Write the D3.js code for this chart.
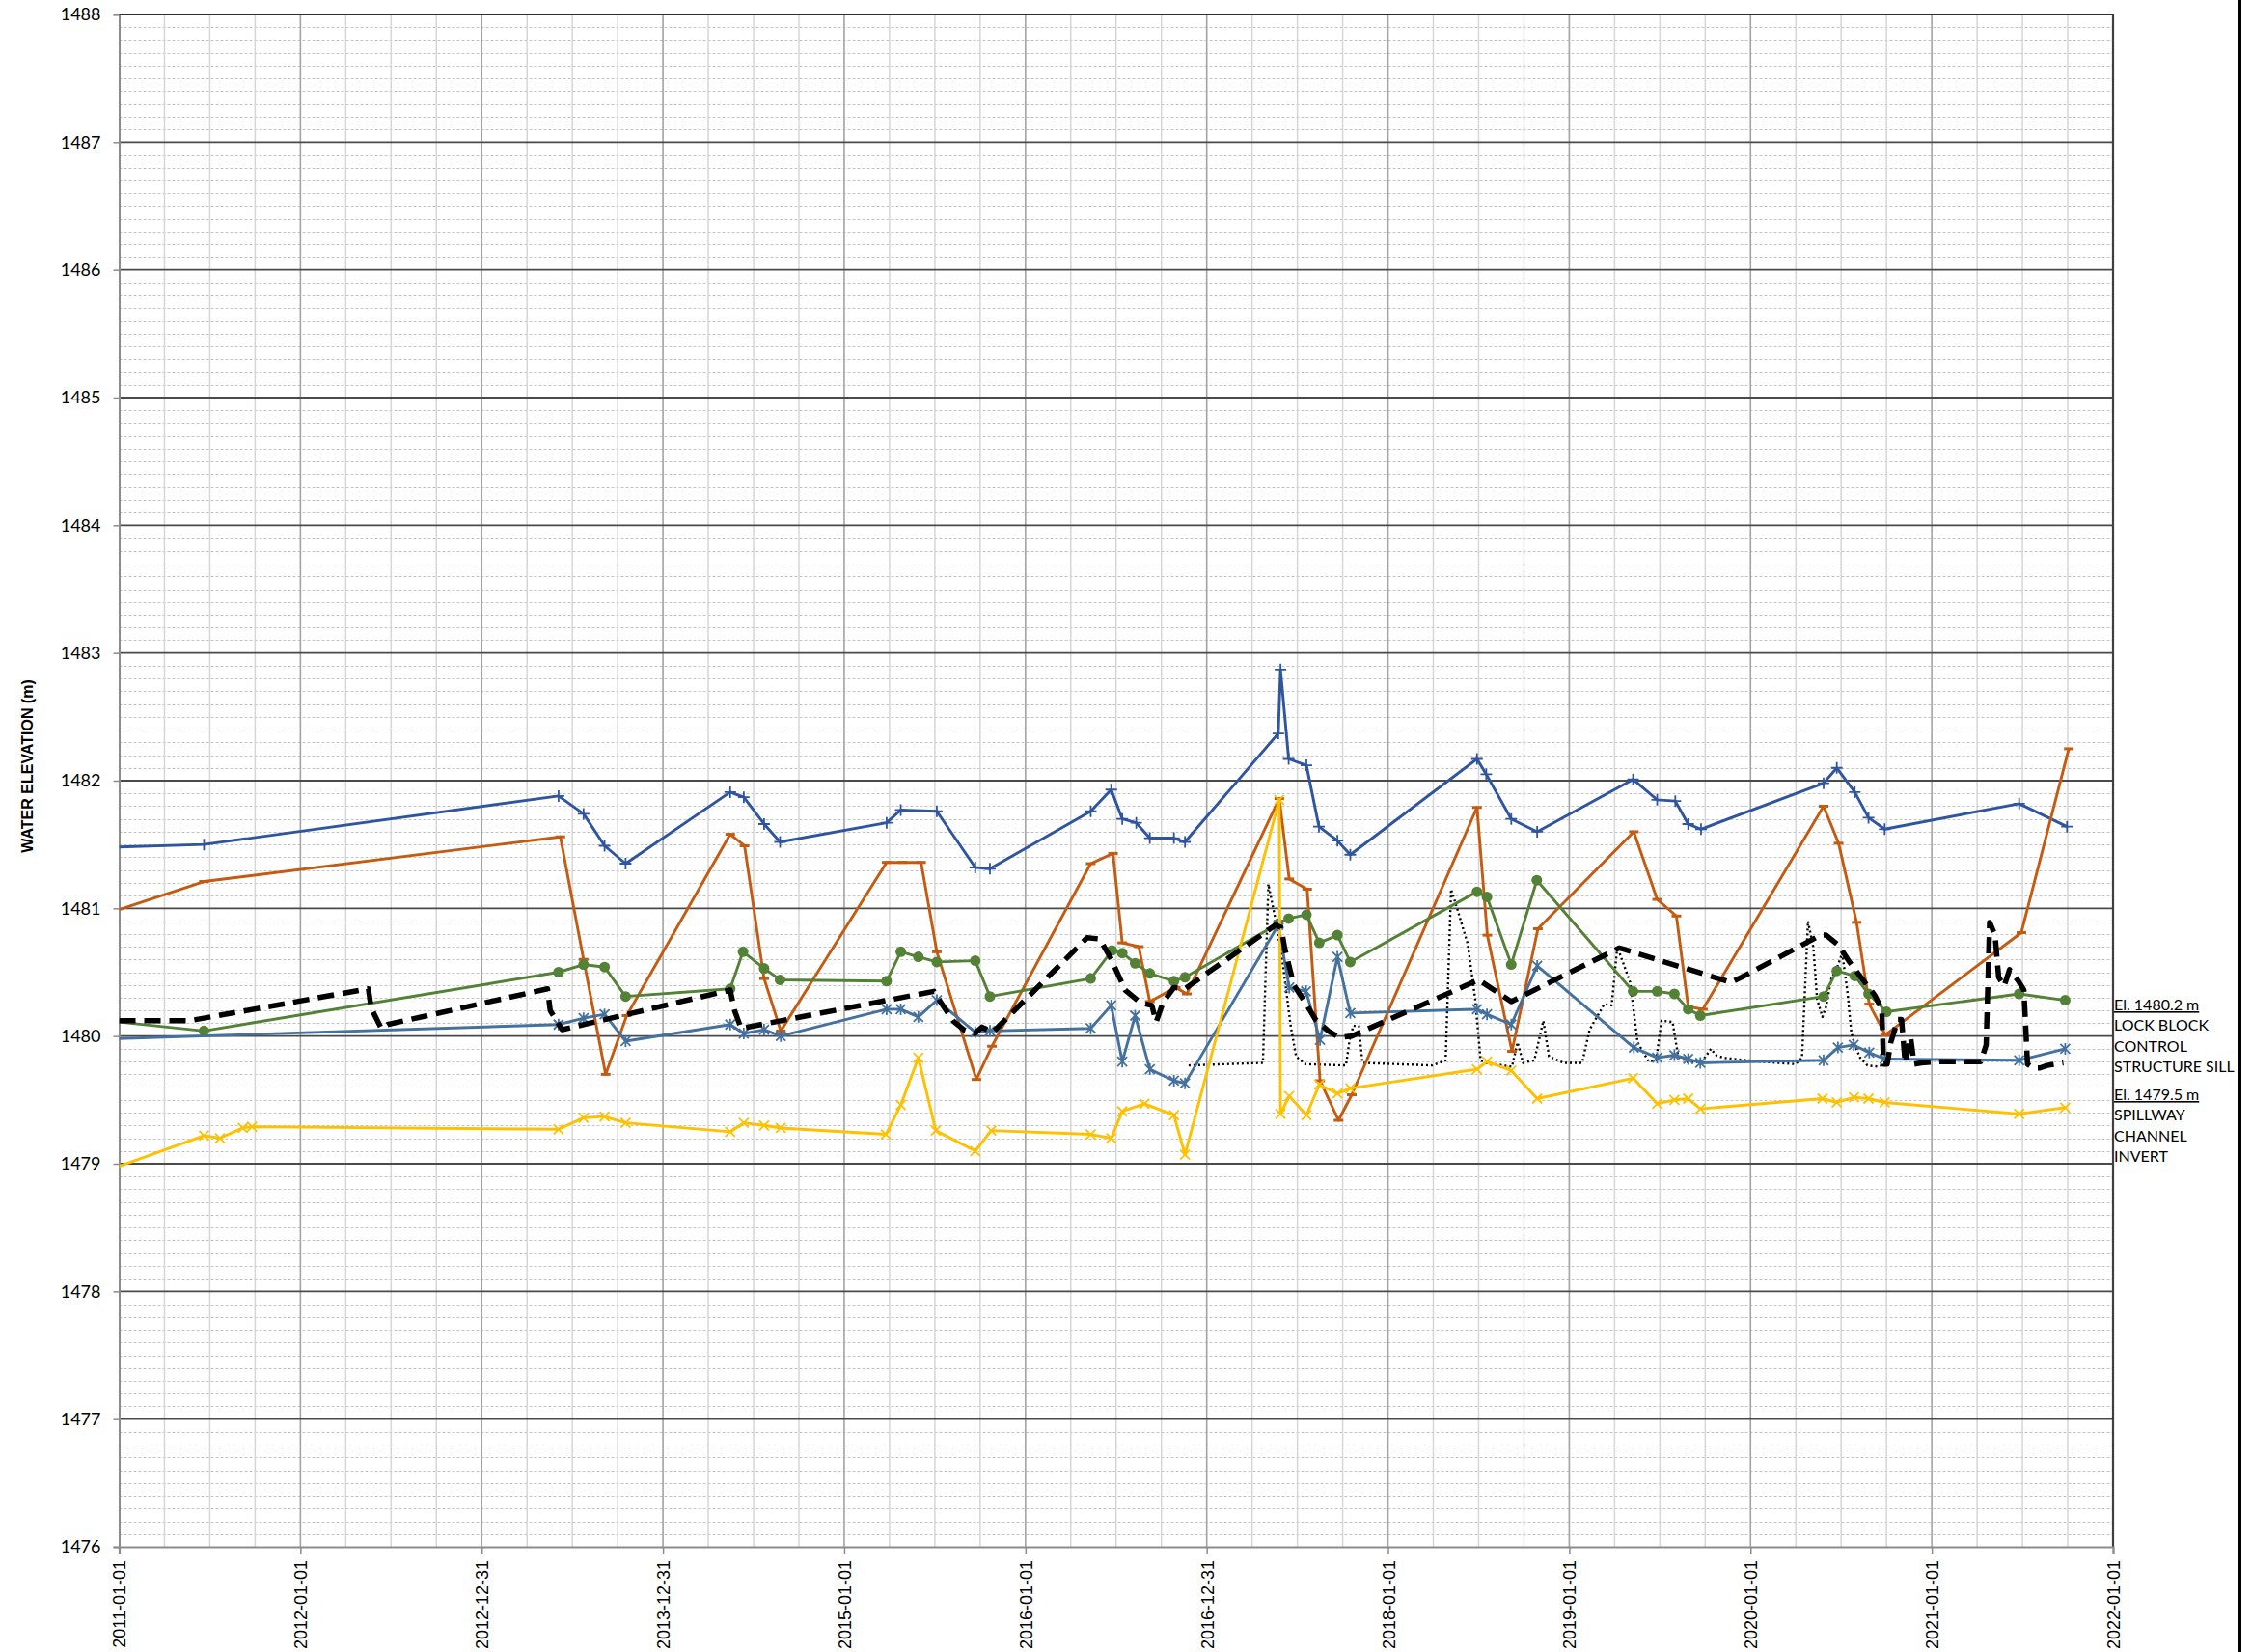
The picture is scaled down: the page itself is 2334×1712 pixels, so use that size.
<!DOCTYPE html>
<html>
<head>
<meta charset="utf-8">
<title>Water elevation</title>
<script src="https://d3js.org/d3.v7.min.js"></script>
<style>
  html, body { margin: 0; background: #fff; overflow: hidden; }
  svg { display: block; }
</style>
</head>
<body>
<svg id="chart"></svg>
<script>
// axis ticks (excel date axis, labels as printed)
var tickYears = [2011, 2012, 2013, 2014, 2015, 2016, 2017, 2018, 2019, 2020, 2021, 2022];
var tickLabels = ["2011-01-01", "2012-01-01", "2012-12-31", "2013-12-31", "2015-01-01", "2016-01-01",
                  "2016-12-31", "2018-01-01", "2019-01-01", "2020-01-01", "2021-01-01", "2022-01-01"];
var elevTicks = [1476, 1477, 1478, 1479, 1480, 1481, 1482, 1483, 1484, 1485, 1486, 1487, 1488];

// series as [decimal year, elevation m]
var wlNavy = [[2011.00,1481.48],[2011.468,1481.50],[2013.424,1481.88],[2013.562,1481.74],[2013.678,1481.49],[2013.794,1481.35],
  [2014.371,1481.91],[2014.446,1481.87],[2014.558,1481.66],[2014.646,1481.52],[2015.234,1481.67],[2015.312,1481.77],[2015.511,1481.76],
  [2015.723,1481.32],[2015.804,1481.31],[2016.36,1481.76],[2016.473,1481.93],[2016.534,1481.70],[2016.611,1481.67],[2016.686,1481.55],
  [2016.819,1481.55],[2016.88,1481.52],[2017.395,1482.37],[2017.407,1482.87],[2017.452,1482.17],[2017.55,1482.12],[2017.619,1481.64],
  [2017.721,1481.53],[2017.792,1481.42],[2018.491,1482.17],[2018.542,1482.05],[2018.68,1481.70],[2018.823,1481.60],[2019.352,1482.01],
  [2019.485,1481.85],[2019.585,1481.84],[2019.656,1481.66],[2019.727,1481.62],[2020.403,1481.98],[2020.476,1482.10],[2020.575,1481.91],
  [2020.651,1481.71],[2020.74,1481.62],[2021.482,1481.82],[2021.746,1481.64]];

var wlOrange = [[2011.00,1480.99],[2011.468,1481.21],[2013.434,1481.56],[2013.562,1480.60],[2013.684,1479.70],[2013.800,1480.16],
  [2014.371,1481.58],[2014.450,1481.49],[2014.558,1480.45],[2014.650,1480.04],[2015.234,1481.36],[2015.322,1481.36],[2015.424,1481.36],
  [2015.511,1480.66],[2015.729,1479.66],[2015.815,1479.92],[2016.36,1481.35],[2016.483,1481.43],[2016.534,1480.73],[2016.625,1480.70],
  [2016.686,1480.27],[2016.829,1480.38],[2016.89,1480.33],[2017.40,1481.86],[2017.455,1481.23],[2017.554,1481.15],[2017.625,1479.65],
  [2017.727,1479.34],[2017.80,1479.54],[2018.491,1481.79],[2018.548,1480.79],[2018.684,1479.88],[2018.827,1480.84],[2019.356,1481.60],
  [2019.485,1481.07],[2019.591,1480.94],[2019.656,1480.23],[2019.737,1480.21],[2020.403,1481.80],[2020.486,1481.51],[2020.585,1480.89],
  [2020.655,1480.25],[2020.744,1480.01],[2021.494,1480.81],[2021.756,1482.25]];

var wlGreen = [[2011.00,1480.11],[2011.468,1480.04],[2013.424,1480.50],[2013.562,1480.56],[2013.678,1480.54],[2013.794,1480.31],
  [2014.371,1480.37],[2014.442,1480.66],[2014.558,1480.53],[2014.646,1480.44],[2015.234,1480.43],[2015.312,1480.66],[2015.409,1480.62],
  [2015.511,1480.58],[2015.723,1480.59],[2015.804,1480.31],[2016.36,1480.45],[2016.477,1480.67],[2016.534,1480.65],[2016.605,1480.57],
  [2016.686,1480.49],[2016.819,1480.43],[2016.88,1480.46],[2017.395,1480.88],[2017.452,1480.92],[2017.55,1480.95],[2017.621,1480.73],
  [2017.721,1480.79],[2017.792,1480.58],[2018.491,1481.13],[2018.546,1481.09],[2018.68,1480.56],[2018.821,1481.22],[2019.352,1480.35],
  [2019.485,1480.35],[2019.58,1480.33],[2019.656,1480.21],[2019.723,1480.16],[2020.403,1480.31],[2020.476,1480.51],[2020.575,1480.47],
  [2020.651,1480.33],[2020.75,1480.19],[2021.482,1480.33],[2021.736,1480.28]];

var wlSteel = [[2011.00,1479.98],[2013.424,1480.09],[2013.562,1480.14],[2013.678,1480.17],[2013.794,1479.96],[2014.371,1480.09],
  [2014.446,1480.02],[2014.558,1480.05],[2014.65,1480.00],[2015.234,1480.21],[2015.312,1480.21],[2015.409,1480.15],[2015.511,1480.28],
  [2015.723,1480.03],[2015.804,1480.04],[2016.36,1480.06],[2016.473,1480.24],[2016.534,1479.80],[2016.605,1480.16],[2016.686,1479.74],
  [2016.819,1479.65],[2016.88,1479.63],[2017.395,1480.87],[2017.455,1480.38],[2017.548,1480.35],[2017.625,1479.97],[2017.721,1480.62],
  [2017.792,1480.18],[2018.491,1480.21],[2018.546,1480.17],[2018.68,1480.09],[2018.823,1480.55],[2019.356,1479.91],[2019.485,1479.83],
  [2019.58,1479.85],[2019.656,1479.82],[2019.723,1479.79],[2020.403,1479.81],[2020.482,1479.91],[2020.569,1479.93],[2020.655,1479.87],
  [2020.74,1479.82],[2021.482,1479.81],[2021.736,1479.90]];

var wlYellow = [[2011.00,1478.98],[2011.468,1479.22],[2011.556,1479.20],[2011.682,1479.28],[2011.733,1479.29],[2013.424,1479.27],
  [2013.562,1479.36],[2013.678,1479.37],[2013.794,1479.32],[2014.371,1479.25],[2014.446,1479.32],[2014.558,1479.30],[2014.65,1479.28],
  [2015.230,1479.23],[2015.312,1479.46],[2015.409,1479.83],[2015.505,1479.26],[2015.723,1479.10],[2015.811,1479.26],[2016.36,1479.23],
  [2016.473,1479.20],[2016.534,1479.41],[2016.656,1479.47],[2016.819,1479.38],[2016.88,1479.07],[2017.40,1481.85],[2017.407,1479.39],
  [2017.455,1479.53],[2017.55,1479.38],[2017.621,1479.62],[2017.721,1479.55],[2017.792,1479.59],[2018.491,1479.74],[2018.546,1479.80],
  [2018.68,1479.73],[2018.823,1479.51],[2019.352,1479.67],[2019.485,1479.47],[2019.58,1479.50],[2019.656,1479.51],[2019.723,1479.43],
  [2020.397,1479.51],[2020.476,1479.48],[2020.571,1479.52],[2020.651,1479.51],[2020.74,1479.48],[2021.482,1479.39],[2021.736,1479.44]];

// continuous records (no markers)
var wlDashed = [[2011.00,1480.12],[2011.387,1480.12],[2012.375,1480.37],[2012.39,1480.22],[2012.446,1480.06],[2012.48,1480.09],
  [2013.363,1480.37],[2013.378,1480.20],[2013.444,1480.05],[2014.371,1480.36],[2014.395,1480.20],[2014.431,1480.06],[2015.495,1480.35],
  [2015.53,1480.27],[2015.60,1480.12],[2015.66,1480.05],[2015.72,1480.02],[2015.76,1480.07],[2015.82,1480.03],[2016.34,1480.77],
  [2016.41,1480.76],[2016.47,1480.61],[2016.55,1480.36],[2016.635,1480.26],[2016.697,1480.24],[2016.721,1480.11],[2016.758,1480.26],
  [2016.819,1480.38],[2016.88,1480.37],[2017.38,1480.87],[2017.41,1480.85],[2017.43,1480.69],[2017.48,1480.40],[2017.54,1480.27],
  [2017.60,1480.13],[2017.67,1480.04],[2017.73,1479.99],[2017.80,1480.00],[2018.50,1480.44],[2018.68,1480.27],[2019.275,1480.69],
  [2019.30,1480.68],[2019.891,1480.42],[2019.95,1480.46],[2020.387,1480.79],[2020.417,1480.79],[2020.486,1480.71],[2020.546,1480.58],
  [2020.625,1480.43],[2020.685,1480.32],[2020.724,1480.21],[2020.734,1479.78],[2020.754,1479.78],[2020.774,1479.95],[2020.813,1480.13],
  [2020.833,1480.13],[2020.853,1479.79],[2020.883,1479.99],[2020.903,1479.78],[2020.942,1479.79],[2021.042,1479.80],[2021.24,1479.80],
  [2021.27,1479.80],[2021.30,1479.93],[2021.319,1480.89],[2021.349,1480.79],[2021.369,1480.46],[2021.399,1480.39],[2021.429,1480.52],
  [2021.478,1480.43],[2021.508,1480.36],[2021.528,1479.78],[2021.558,1479.75],[2021.597,1479.75],[2021.637,1479.77],[2021.726,1479.79]];

var wlDotted = [[2016.90,1479.77],[2017.31,1479.79],[2017.34,1481.19],[2017.381,1480.90],[2017.42,1480.56],[2017.463,1480.08],
  [2017.493,1479.84],[2017.544,1479.78],[2017.768,1479.77],[2017.788,1479.97],[2017.809,1480.08],[2017.839,1480.08],[2017.859,1479.79],
  [2018.246,1479.77],[2018.318,1479.81],[2018.348,1481.15],[2018.379,1481.01],[2018.44,1480.72],[2018.481,1480.29],[2018.511,1479.81],
  [2018.542,1479.79],[2018.684,1479.76],[2018.715,1479.95],[2018.745,1479.79],[2018.807,1479.81],[2018.857,1480.12],[2018.888,1479.84],
  [2018.969,1479.79],[2019.071,1479.79],[2019.112,1480.05],[2019.193,1480.25],[2019.234,1480.24],[2019.265,1480.70],[2019.336,1480.42],
  [2019.377,1479.95],[2019.438,1479.80],[2019.479,1479.81],[2019.509,1480.12],[2019.57,1480.11],[2019.601,1479.84],[2019.662,1479.79],
  [2019.732,1479.80],[2019.782,1479.90],[2019.81,1479.85],[2019.85,1479.83],[2020.05,1479.80],[2020.248,1479.78],[2020.284,1479.83],
  [2020.317,1480.90],[2020.347,1480.69],[2020.367,1480.29],[2020.397,1480.15],[2020.417,1480.23],[2020.446,1480.45],[2020.476,1480.53],
  [2020.506,1480.65],[2020.536,1480.33],[2020.556,1480.03],[2020.575,1479.93],[2020.605,1479.83],[2020.645,1479.77],[2020.704,1479.76],
  [2020.744,1479.78]];

// reference notes on the right
var noteSill = ["El. 1480.2 m", "LOCK BLOCK", "CONTROL", "STRUCTURE SILL"];
var noteInvert = ["El. 1479.5 m", "SPILLWAY", "CHANNEL", "INVERT"];

var W = 2334, H = 1712;
var margin = {top: 15, right: 144, bottom: 109, left: 123.5};

var svg = d3.select("#chart").attr("width", W).attr("height", H);

var x = d3.scaleLinear().domain([2011, 2022]).range([margin.left, W - margin.right]);
var y = d3.scaleLinear().domain([1476, 1488]).range([H - margin.bottom, margin.top]);

var x0 = x.range()[0], x1 = x.range()[1], yTop = y.range()[1], yBot = y.range()[0];

var grid = svg.append("g");

// minor horizontal lines every 0.1 m (dashed)
grid.selectAll(".hmin")
  .data(d3.range(1, 120).filter(function(i) { return i % 10 != 0; }))
  .enter().append("line")
  .attr("x1", x0).attr("x2", x1)
  .attr("y1", function(i) { return Math.round(y(1476 + i / 10)) + 0.5; })
  .attr("y2", function(i) { return Math.round(y(1476 + i / 10)) + 0.5; })
  .attr("stroke", "#c4c4c4").attr("stroke-width", 1).attr("stroke-dasharray", "3,2");

// minor vertical lines every quarter
grid.selectAll(".vmin")
  .data(d3.range(1, 44).filter(function(i) { return i % 4 != 0; }))
  .enter().append("line")
  .attr("y1", yTop).attr("y2", yBot)
  .attr("x1", function(i) { return x(2011 + i / 4); })
  .attr("x2", function(i) { return x(2011 + i / 4); })
  .attr("stroke", "#d6d6d6").attr("stroke-width", 1.5);

// major vertical lines
grid.selectAll(".vmaj")
  .data(tickYears.slice(1, -1))
  .enter().append("line")
  .attr("y1", yTop).attr("y2", yBot)
  .attr("x1", function(d) { return x(d); }).attr("x2", function(d) { return x(d); })
  .attr("stroke", "#a3a3a3").attr("stroke-width", 1.6);

// major horizontal lines
grid.selectAll(".hmaj")
  .data(elevTicks.slice(1))
  .enter().append("line")
  .attr("x1", x0).attr("x2", x1)
  .attr("y1", function(d) { return y(d); }).attr("y2", function(d) { return y(d); })
  .attr("stroke", "#4a4a4a").attr("stroke-width", 1.8);

// right border of plot
grid.append("line")
  .attr("x1", x1).attr("x2", x1).attr("y1", yTop).attr("y2", yBot)
  .attr("stroke", "#404040").attr("stroke-width", 2.2);

// Y axis
var yAxis = svg.append("g")
  .attr("transform", "translate(" + x0 + ",0)")
  .call(d3.axisLeft(y).tickValues(elevTicks).tickFormat(d3.format("d")).tickSize(6).tickPadding(13));
yAxis.select(".domain").attr("stroke", "#8c8c8c").attr("stroke-width", 2);
yAxis.selectAll(".tick line").attr("stroke", "#8c8c8c").attr("stroke-width", 1.5);
yAxis.selectAll("text")
  .attr("fill", "#000")
  .style("font-family", "Lato, 'Open Sans', sans-serif")
  .style("font-size", "18px");

// X axis
var xAxis = svg.append("g")
  .attr("transform", "translate(0," + yBot + ")")
  .call(d3.axisBottom(x).tickValues(tickYears)
    .tickFormat(function(d, i) { return tickLabels[i]; }).tickSize(7));
xAxis.select(".domain").attr("stroke", "#8c8c8c").attr("stroke-width", 2.2);
xAxis.selectAll(".tick line").attr("stroke", "#8c8c8c").attr("stroke-width", 1.5);
xAxis.selectAll("text")
  .attr("transform", "rotate(-90)")
  .attr("x", -14).attr("y", 0).attr("dy", "0.36em")
  .style("text-anchor", "end")
  .attr("fill", "#000")
  .style("font-family", "'Liberation Sans', Arial, sans-serif")
  .style("font-size", "18px");

// y title
svg.append("text")
  .attr("transform", "translate(28," + ((yTop + yBot) / 2 - 15) + ") rotate(-90)")
  .attr("text-anchor", "middle")
  .attr("dy", "0.35em")
  .style("font-family", "'Liberation Sans', Arial, sans-serif")
  .style("font-size", "16px").style("font-weight", "bold")
  .text("WATER ELEVATION (m)");

// clip to the plot
svg.append("clipPath").attr("id", "plotclip")
  .append("rect").attr("x", x0).attr("y", yTop).attr("width", x1 - x0).attr("height", yBot - yTop);

var plot = svg.append("g").attr("clip-path", "url(#plotclip)");

var line = d3.line()
  .x(function(d) { return x(d[0]); })
  .y(function(d) { return y(d[1]); });

// marker shapes
function markerPath(kind) {
  if (kind == "plus") return "M-6,0H6M0,-6V6";
  if (kind == "dash") return "M-5,0H5";
  if (kind == "x") return "M-5,-5L5,5M-5,5L5,-5";
  if (kind == "star") return "M-5,-5L5,5M-5,5L5,-5M0,-6V6";
  return null;
}

var series = [
  {data: wlDotted, color: "#000", width: 2.4, dash: "2,3"},
  {data: wlNavy, color: "#2f55a1", width: 2.9, marker: "plus"},
  {data: wlOrange, color: "#c55a11", width: 2.9, marker: "dash"},
  {data: wlGreen, color: "#538135", width: 2.9, marker: "circle"},
  {data: wlSteel, color: "#44719e", width: 2.9, marker: "star"},
  {data: wlYellow, color: "#ffc000", width: 2.9, marker: "x"},
  {data: wlDashed, color: "#000", width: 5.5, dash: "17,9"}
];

series.forEach(function(s) {
  plot.append("path")
    .datum(s.data)
    .attr("d", line)
    .attr("fill", "none")
    .attr("stroke", s.color)
    .attr("stroke-width", s.width)
    .attr("stroke-linejoin", "round")
    .attr("stroke-dasharray", s.dash || null);

  if (!s.marker) return;
  var pts = plot.append("g").selectAll("g")
    .data(s.data.filter(function(d) { return d[0] > 2011.001; }))
    .enter().append("g")
    .attr("transform", function(d) { return "translate(" + x(d[0]) + "," + y(d[1]) + ")"; });
  if (s.marker == "circle") {
    pts.append("circle").attr("r", 5.5).attr("fill", s.color);
  } else {
    pts.append("path").attr("d", markerPath(s.marker))
      .attr("fill", "none").attr("stroke", s.color)
      .attr("stroke-width", s.marker == "dash" ? 3 : 1.8);
  }
});

// top border over the lines
svg.append("line")
  .attr("x1", x0).attr("x2", x1).attr("y1", yTop).attr("y2", yTop)
  .attr("stroke", "#303030").attr("stroke-width", 2);

// notes beside the plot
function addNote(lines, baseY) {
  var g = svg.append("g")
    .style("font-family", "Lato, 'Open Sans', sans-serif")
    .style("font-size", "16px");
  lines.forEach(function(t, i) {
    g.append("text")
      .attr("x", x1 + 1)
      .attr("y", baseY + i * 21.4)
      .attr("text-decoration", i == 0 ? "underline" : null)
      .text(t);
  });
}
addNote(noteSill, 1047);
addNote(noteInvert, 1140);

// outer frame edge on the right
svg.append("rect")
  .attr("x", 2319).attr("y", 0).attr("width", 4).attr("height", H)
  .attr("fill", "#000");
</script>
</body>
</html>
